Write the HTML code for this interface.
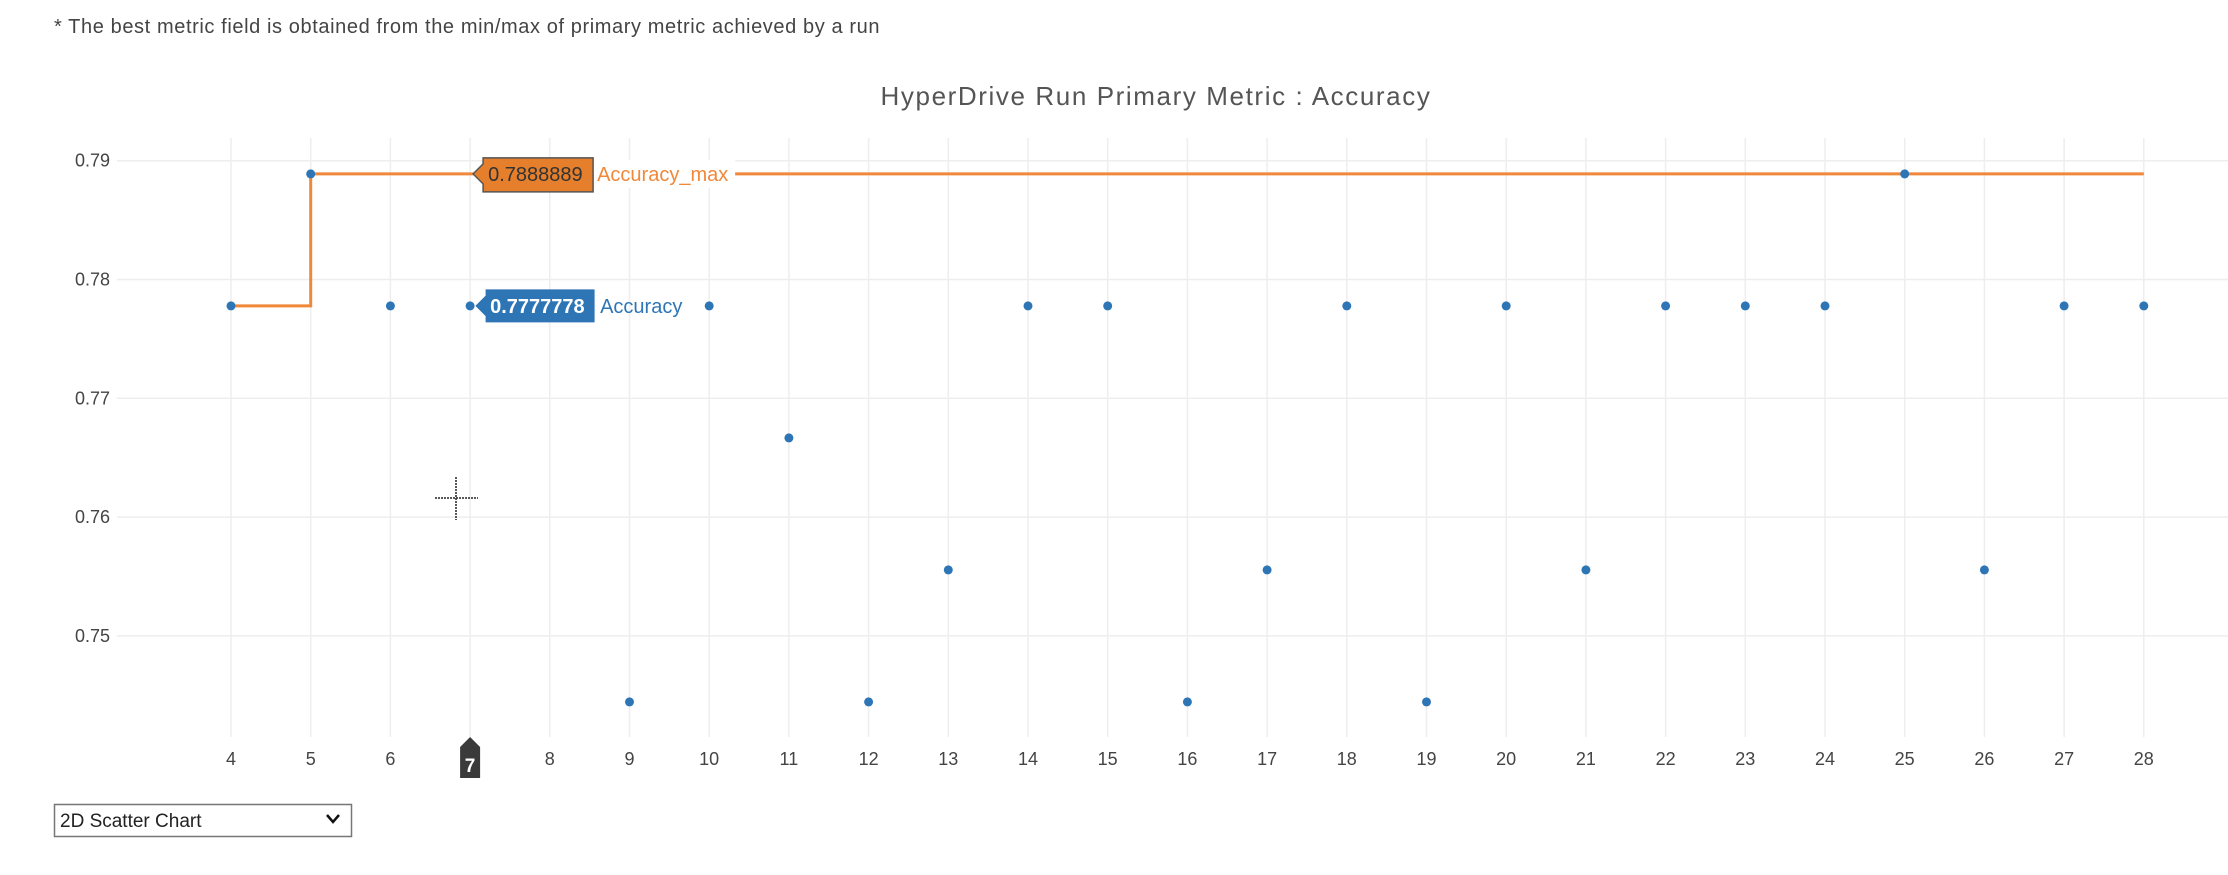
<!DOCTYPE html>
<html><head><meta charset="utf-8"><style>
body{margin:0;background:#fff;width:2228px;height:870px;overflow:hidden;font-family:"Liberation Sans",sans-serif}
</style></head><body>
<svg width="2228" height="870" xmlns="http://www.w3.org/2000/svg">
<text x="54" y="33" font-size="20" fill="#444" letter-spacing="0.6">* The best metric field is obtained from the min/max of primary metric achieved by a run</text>
<text x="1156" y="105" font-size="26" fill="#555" text-anchor="middle" letter-spacing="1.6">HyperDrive Run Primary Metric : Accuracy</text>
<g id="grid"></g>
<g id="marks"></g>
<g id="hover"></g>
<g>
<rect x="54.5" y="804.5" width="297" height="32" fill="#fff" stroke="#777" stroke-width="1.5"/>
<text x="60" y="827" font-size="19" fill="#222">2D Scatter Chart</text>
<path d="M327 815 l6 7 l6 -7" fill="none" stroke="#111" stroke-width="2.5"/>
</g>
</svg>
<script>
const runs=[4,5,6,7,9,10,11,12,13,14,15,16,17,18,19,20,21,22,23,24,25,26,27,28];
const acc=[0.7777778,0.7888889,0.7777778,0.7777778,0.7444444,0.7777778,0.7666667,0.7444444,0.7555556,0.7777778,0.7777778,0.7444444,0.7555556,0.7777778,0.7444444,0.7777778,0.7555556,0.7777778,0.7777778,0.7777778,0.7888889,0.7555556,0.7777778,0.7777778];
const xTicks=[4,5,6,7,8,9,10,11,12,13,14,15,16,17,18,19,20,21,22,23,24,25,26,27,28];
const yTicks=[0.75,0.76,0.77,0.78,0.79];
const X=v=>231+(v-4)*79.7;
const Y=v=>160.7-(v-0.79)*11880;
const NS="http://www.w3.org/2000/svg";
function mk(p,t,a){const e=document.createElementNS(NS,t);for(const k in a)e.setAttribute(k,a[k]);p.appendChild(e);return e;}
const g=document.getElementById('grid'),m=document.getElementById('marks'),h=document.getElementById('hover');
xTicks.forEach(t=>{
 const l=mk(g,'line',{x1:X(t),x2:X(t),y1:138,y2:737,stroke:'#eee','stroke-width':1.5});
 
 
 if(t!==7){const tx=mk(g,'text',{x:X(t),y:765,'font-size':18,fill:'#444','text-anchor':'middle'});tx.textContent=t;
 
 }
});
yTicks.forEach(t=>{
 const l=mk(g,'line',{x1:117,x2:2228,y1:Y(t),y2:Y(t),stroke:'#eee','stroke-width':1.5});
 
 
 const tx=mk(g,'text',{x:110,y:Y(t)+6,'font-size':18,fill:'#444','text-anchor':'end'});tx.textContent=t.toFixed(2);
 
 
});
let mx=-1,d='';
runs.forEach((r,i)=>{const prev=mx;mx=Math.max(mx,acc[i]);
 if(i===0)d+=`M${X(r)} ${Y(mx)}`;else{d+=` H${X(r)}`;if(mx!==prev)d+=` V${Y(mx)}`;}});
const pl=mk(m,'path',{d:d,fill:'none',stroke:'#f0883a','stroke-width':3});


runs.forEach((r,i)=>{const c=mk(m,'circle',{cx:X(r),cy:Y(acc[i]),r:4.5,fill:'#2e75b6'});
 
 });
const hx=X(7);
const mxVal=0.7888889,aVal=0.7777778;
const wb=mk(h,'rect',{x:hx+123,y:Y(mxVal)-14,width:142,height:28,fill:'#fff'});


const ob=mk(h,'path',{d:`M${hx+3} ${Y(mxVal)} l10 -10 v-6 h110 v34 h-110 v-8 z`,fill:'#e57f2c',stroke:'#555','stroke-width':1.5});


const ot=mk(h,'text',{x:hx+18,y:Y(mxVal)+7,'font-size':20,fill:'#333'});ot.textContent='0.7888889';


const on=mk(h,'text',{x:hx+127,y:Y(mxVal)+7,'font-size':20,fill:'#f0883a'});on.textContent='Accuracy_max';


const bb=mk(h,'path',{d:`M${hx+6} ${Y(aVal)} l10 -10 v-6 h108 v32 h-108 v-6 z`,fill:'#2e75b6',stroke:'#2e75b6','stroke-width':1});


const bt=mk(h,'text',{x:hx+20,y:Y(aVal)+7,'font-size':20,fill:'#fff','font-weight':'bold'});bt.textContent='0.7777778';


const bn=mk(h,'text',{x:hx+130,y:Y(aVal)+7,'font-size':20,fill:'#2e75b6'});bn.textContent='Accuracy';


const xb=mk(h,'path',{d:`M${hx-10} 755 v-8 l10 -10 l10 10 v31 h-20 z`,fill:'#3a3a3a'});


const xt=mk(h,'text',{x:hx,y:772,'font-size':19,fill:'#fff','text-anchor':'middle','font-weight':'bold'});xt.textContent='7';


const cr=mk(h,'path',{d:'M456 477 V520 M435 498 H478',stroke:'#222','stroke-width':1.5,'stroke-dasharray':'2 1'});


</script>
</body></html>
